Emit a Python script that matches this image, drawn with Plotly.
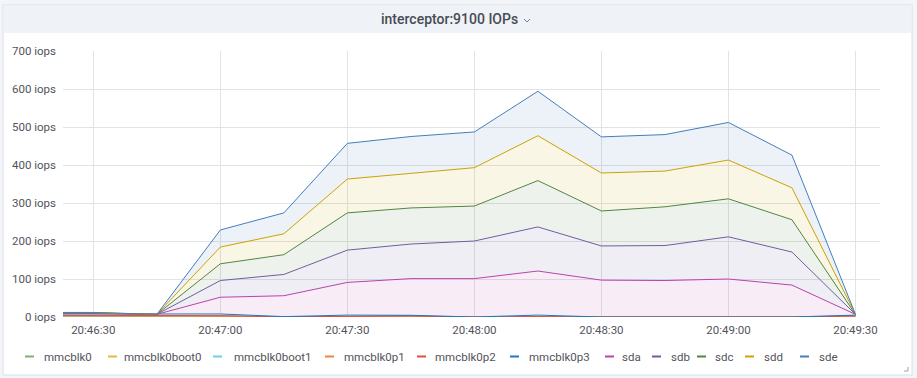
import plotly.graph_objects as go

# ---------------- data ----------------
day = "2021-01-01 "
times = ["20:46:15", "20:46:30", "20:46:45", "20:47:00", "20:47:15", "20:47:30", "20:47:45",
         "20:48:00", "20:48:15", "20:48:30", "20:48:45", "20:49:00", "20:49:15", "20:49:30"]

series_names = ["mmcblk0", "mmcblk0boot0", "mmcblk0boot1", "mmcblk0p1", "mmcblk0p2",
                "mmcblk0p3", "sda", "sdb", "sdc", "sdd", "sde"]

mmcblk0      = [2.5, 2.5, 2.5, 2, 0.5, 1, 2, 0, 0.5, 0, 0, 0, 0, 2]
mmcblk0boot0 = [0, 0, 0, 0, 0, 0, 0, 0, 0, 0, 0, 0, 0, 0]
mmcblk0boot1 = [0, 0, 0, 0, 0, 0, 0, 0, 0, 0, 0, 0, 0, 0]
mmcblk0p1    = [0, 0, 0, 0, 0, 0, 0, 0, 0, 0, 0, 0, 0, 0]
mmcblk0p2    = [2, 2, 2, 1.5, 0, 1, 1, 0, 0.5, 0, 0, 0, 0, 1]
mmcblk0p3    = [3.5, 3.5, 2.5, 4.5, 0.5, 3, 1.5, 0, 4, 0, 0, 0, 0, 2]
sda          = [1, 1, 0, 44, 55, 86, 96.5, 101, 116, 97, 96, 100, 84, 2]
sdb          = [1, 1, 0, 44, 56, 85, 91, 99, 116, 90, 92, 111, 87, 0]
sdc          = [1, 1, 0, 44, 52, 98, 95, 92, 122, 92, 102, 100, 85, 0]
sdd          = [0.5, 0.5, 0, 44, 55, 89, 91, 101, 118, 100, 94, 102, 84, 0]
sde          = [0.5, 0.5, 0, 45, 55, 94, 97, 94, 117, 95, 96, 99, 86, 0]

series_values = [mmcblk0, mmcblk0boot0, mmcblk0boot1, mmcblk0p1, mmcblk0p2,
                 mmcblk0p3, sda, sdb, sdc, sdd, sde]

y_tick_values = [0, 100, 200, 300, 400, 500, 600, 700]
y_tick_labels = [f"{v} iops" for v in y_tick_values]

# ---------------- style ----------------
colors = ["#7EB26D", "#EAB839", "#6ED0E0", "#EF843C", "#E24D42", "#1F78C1",
          "#BA43A9", "#705DA0", "#508642", "#CCA300", "#447EBC"]

W, H = 917, 378
PL, PR, PT, PB = 63, 880, 51, 317   # plot area in pixels
FONT = "Roboto"
TXT = "#52545c"
GRID = "#e3e3e3"
FS = 11.5


def px(x):
    return (x - PL) / (PR - PL)


def py(y):
    return (PB - y) / (PB - PT)


def rgba(hexc, a):
    h = hexc.lstrip("#")
    r, g, b = int(h[0:2], 16), int(h[2:4], 16), int(h[4:6], 16)
    return f"rgba({r},{g},{b},{a})"


x = [day + t for t in times]

fig = go.Figure()
for name, vals, c in zip(series_names, series_values, colors):
    fig.add_trace(go.Scatter(
        x=x, y=vals, name=name, mode="lines", stackgroup="one",
        line=dict(color=c, width=1), fillcolor=rgba(c, 0.1),
        showlegend=False, hoverinfo="skip"))

shapes = []
annotations = []

# panel background, header, border
shapes.append(dict(type="rect", xref="paper", yref="paper", layer="below",
                   x0=px(3), x1=px(912), y0=py(375), y1=py(5),
                   fillcolor="#ffffff", line=dict(color="#dadee4", width=1)))
shapes.append(dict(type="rect", xref="paper", yref="paper", layer="below",
                   x0=px(3.5), x1=px(911.5), y0=py(33), y1=py(5.5),
                   fillcolor="#eff2f7", line=dict(width=0)))
# title chevron
shapes.append(dict(type="path", xref="paper", yref="paper",
                   path=f"M {px(524)} {py(19)} L {px(527)} {py(22)} L {px(530)} {py(19)}",
                   line=dict(color="#7b7f87", width=1)))
# resize handle
shapes.append(dict(type="path", xref="paper", yref="paper",
                   path=f"M {px(904)} {py(371)} L {px(908)} {py(371)} L {px(908)} {py(367)}",
                   line=dict(color="#9aa0a8", width=1)))

annotations.append(dict(text="interceptor:9100 IOPs", xref="paper", yref="paper",
                        x=px(449), y=py(19.5), xanchor="center", yanchor="middle",
                        showarrow=False,
                        font=dict(family=FONT, size=14, color="#464c54", weight=500)))

# legend (built from names/colors)
legend_dash_x = [25, 108, 213, 325, 417, 510, 605, 652, 697, 745, 800]
legend_text_x = [42, 122, 232, 342, 433, 527, 620, 669, 713, 762, 817]
LEG_Y = 356.5
for name, c, dx, tx in zip(series_names, colors, legend_dash_x, legend_text_x):
    shapes.append(dict(type="line", xref="paper", yref="paper",
                       x0=px(dx), x1=px(dx + 9), y0=py(LEG_Y), y1=py(LEG_Y),
                       line=dict(color=c, width=2)))
    annotations.append(dict(text=name, xref="paper", yref="paper",
                            x=px(tx), y=py(LEG_Y), xanchor="left", yanchor="middle",
                            showarrow=False,
                            font=dict(family=FONT, size=FS, color=TXT)))

fig.update_layout(
    width=W, height=H, autosize=False,
    margin=dict(l=PL, r=W - PR, t=PT, b=H - PB, pad=0),
    paper_bgcolor="#f4f5f8", plot_bgcolor="rgba(0,0,0,0)",
    font=dict(family=FONT, size=FS, color=TXT),
    showlegend=False,
    shapes=shapes, annotations=annotations,
    xaxis=dict(type="date",
               range=[day + "20:46:22.84", day + "20:49:35.8"],
               tick0=day + "20:46:30", dtick=30000, tickformat="%H:%M:%S",
               showgrid=True, gridcolor=GRID, gridwidth=1, zeroline=False,
               showline=False, ticks="", tickfont=dict(size=FS, color=TXT),
               ticklabelstandoff=4),
    yaxis=dict(range=[0, 700], tickvals=y_tick_values, ticktext=y_tick_labels,
               showgrid=True, gridcolor=GRID, gridwidth=1, zeroline=False,
               showline=False, ticks="", tickfont=dict(size=FS, color=TXT),
               ticklabelstandoff=6),
)

fig.write_html("out.html", config={"displayModeBar": False},
               post_script="document.body.style.margin='0';document.body.style.overflow='hidden';")
